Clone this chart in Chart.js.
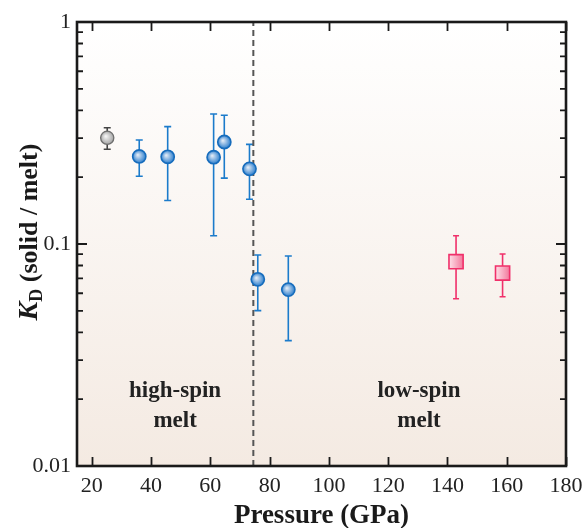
<!DOCTYPE html>
<html><head><meta charset="utf-8">
<script src="https://cdn.jsdelivr.net/npm/chart.js@4/dist/chart.umd.min.js"></script>
<style>html,body{margin:0;padding:0;background:#fff;}#wrap{width:584px;height:528px;}</style>
</head><body><div id="wrap"><canvas id="c" width="584" height="528"></canvas></div>
<script>
// ---- data ----
const refPressure = [25.2];
const refKd = [0.301];
const refKdHigh = [0.334];
const refKdLow = [0.267];

const hsPressure = [36.0, 45.6, 61.1, 64.7, 73.2, 76.0, 86.3];
const hsKd = [0.248, 0.247, 0.246, 0.288, 0.218, 0.0693, 0.0623];
const hsKdHigh = [0.294, 0.338, 0.385, 0.380, 0.281, 0.0892, 0.0883];
const hsKdLow = [0.202, 0.157, 0.109, 0.198, 0.159, 0.0501, 0.0367];

const lsPressure = [142.9, 158.6];
const lsKd = [0.0832, 0.0740];
const lsKdHigh = [0.109, 0.0902];
const lsKdLow = [0.0567, 0.0579];

const transitionPressure = 74.5;

const xTicks = [20, 40, 60, 80, 100, 120, 140, 160, 180];
const yMajorTicks = [0.01, 0.1, 1];
const yTickLabels = ['0.01', '0.1', '1'];
const yMinorTicks = [0.02,0.03,0.04,0.05,0.06,0.07,0.08,0.09,0.2,0.3,0.4,0.5,0.6,0.7,0.8,0.9];

const regionLabels = [
  {x: 48.1, lines: ['high-spin', 'melt']},
  {x: 130.4, lines: ['low-spin', 'melt']}
];

const pts = (xs, ys) => xs.map((x, i) => ({x: x, y: ys[i]}));

function radialFill(ctx, inner, outer) {
  const ch = ctx.chart;
  if (!ch.scales || !ch.scales.x || ctx.raw === undefined || ctx.raw === null) return outer;
  const px = ch.scales.x.getPixelForValue(ctx.raw.x);
  const py = ch.scales.y.getPixelForValue(ctx.raw.y);
  if (!isFinite(px) || !isFinite(py)) return outer;
  const g = ch.ctx.createRadialGradient(px - 1.5, py - 1.5, 0.5, px, py, 7);
  g.addColorStop(0, inner);
  g.addColorStop(1, outer);
  return g;
}
function squareFill(ctx) {
  const ch = ctx.chart;
  if (!ch.scales || !ch.scales.x || !ctx.raw) return '#f58aa8';
  const px = ch.scales.x.getPixelForValue(ctx.raw.x);
  if (!isFinite(px)) return '#f58aa8';
  const g = ch.ctx.createLinearGradient(px - 7, 0, px + 7, 0);
  g.addColorStop(0, '#fde0e8');
  g.addColorStop(1, '#f3789c');
  return g;
}

const errorSets = [
  {xs: refPressure, hi: refKdHigh, lo: refKdLow, color: '#444444', cap: 3.5},
  {xs: hsPressure, hi: hsKdHigh, lo: hsKdLow, color: '#1b7bcb', cap: 3.5},
  {xs: lsPressure, hi: lsKdHigh, lo: lsKdLow, color: '#f0306a', cap: 3}
];

const SERIF = '"Liberation Serif", "DejaVu Serif", serif';

const framePlugin = {
  id: 'frame',
  beforeDraw(chart) {
    const {ctx, chartArea: a} = chart;
    const g = ctx.createLinearGradient(0, a.top, 0, a.bottom);
    g.addColorStop(0, '#ffffff');
    g.addColorStop(1, '#f4eae2');
    ctx.save();
    ctx.fillStyle = g;
    ctx.fillRect(a.left, a.top, a.right - a.left, a.bottom - a.top);
    ctx.restore();
  },
  beforeDatasetsDraw(chart) {
    const {ctx, chartArea: a, scales: {x, y}} = chart;
    ctx.save();
    // region labels
    ctx.fillStyle = '#222';
    ctx.font = 'bold 23px ' + SERIF;
    ctx.textAlign = 'center';
    ctx.textBaseline = 'middle';
    regionLabels.forEach(r => {
      const px = x.getPixelForValue(r.x);
      ctx.fillText(r.lines[0], px, 391);
      ctx.fillText(r.lines[1], px, 421);
    });
    // error bars
    errorSets.forEach(s => {
      ctx.strokeStyle = s.color;
      ctx.lineWidth = 1.6;
      s.xs.forEach((xv, i) => {
        const px = x.getPixelForValue(xv);
        const pt = y.getPixelForValue(s.hi[i]);
        const pb = y.getPixelForValue(s.lo[i]);
        ctx.beginPath();
        ctx.moveTo(px, pt); ctx.lineTo(px, pb);
        ctx.moveTo(px - s.cap, pt); ctx.lineTo(px + s.cap, pt);
        ctx.moveTo(px - s.cap, pb); ctx.lineTo(px + s.cap, pb);
        ctx.stroke();
      });
    });
    ctx.restore();
  },
  afterDraw(chart) {
    const {ctx, chartArea: a, scales: {x, y}} = chart;
    ctx.save();
    ctx.strokeStyle = '#1a1a1a';
    ctx.lineWidth = 1.8;
    ctx.beginPath();
    xTicks.forEach(v => {
      const px = Math.round(x.getPixelForValue(v)) + 0.5;
      ctx.moveTo(px, a.bottom); ctx.lineTo(px, a.bottom - 9);
      ctx.moveTo(px, a.top); ctx.lineTo(px, a.top + 9);
    });
    yMajorTicks.forEach(v => {
      const py = y.getPixelForValue(v);
      ctx.moveTo(a.left, py); ctx.lineTo(a.left + 10, py);
      ctx.moveTo(a.right, py); ctx.lineTo(a.right - 10, py);
    });
    yMinorTicks.forEach(v => {
      const py = y.getPixelForValue(v);
      ctx.moveTo(a.left, py); ctx.lineTo(a.left + 6, py);
      ctx.moveTo(a.right, py); ctx.lineTo(a.right - 6, py);
    });
    ctx.stroke();
    ctx.lineWidth = 2.6;
    ctx.strokeRect(a.left, a.top, a.right - a.left, a.bottom - a.top);
    // y-axis title: K_D (solid / melt)
    ctx.translate(29, 232);
    ctx.rotate(-Math.PI / 2);
    ctx.fillStyle = '#1a1a1a';
    ctx.textBaseline = 'alphabetic';
    ctx.textAlign = 'left';
    const f1 = 'bold italic 28px ' + SERIF;
    const f2 = 'bold 18px ' + SERIF;
    const f3 = 'bold 26px ' + SERIF;
    const t3 = ' (solid / melt)';
    ctx.font = f1; const w1 = ctx.measureText('K').width;
    ctx.font = f2; const w2 = ctx.measureText('D').width;
    ctx.font = f3; const w3 = ctx.measureText(t3).width;
    let sx = -(w1 + w2 + w3) / 2;
    const base = 8;
    ctx.font = f1; ctx.fillText('K', sx, base); sx += w1;
    ctx.font = f2; ctx.fillText('D', sx, base + 5); sx += w2;
    ctx.font = f3; ctx.fillText(t3, sx, base);
    ctx.restore();
  }
};

new Chart(document.getElementById('c'), {
  type: 'scatter',
  data: {
    datasets: [
      {
        label: 'transition',
        type: 'line',
        data: [{x: transitionPressure, y: 0.01}, {x: transitionPressure, y: 1}],
        borderColor: '#555555', borderWidth: 2, borderDash: [6, 4],
        pointRadius: 0, fill: false, order: 5
      },
      {
        label: 'reference',
        data: pts(refPressure, refKd),
        pointRadius: 6.6, pointBorderWidth: 1.3,
        pointBorderColor: '#6e6e6e',
        pointBackgroundColor: c => radialFill(c, '#f4f4f4', '#a0a0a0'),
        order: 1
      },
      {
        label: 'high-spin',
        data: pts(hsPressure, hsKd),
        pointRadius: 6.6, pointBorderWidth: 1.6,
        pointBorderColor: '#166cbc',
        pointBackgroundColor: c => radialFill(c, '#dde8f5', '#2479cb'),
        order: 1
      },
      {
        label: 'low-spin',
        data: pts(lsPressure, lsKd),
        pointStyle: 'rect', pointRadius: 10, pointBorderWidth: 1.6,
        pointBorderColor: '#f0306a',
        pointBackgroundColor: squareFill,
        order: 1
      }
    ]
  },
  plugins: [framePlugin],
  options: {
    responsive: false,
    animation: false,
    events: [],
    layout: {padding: {left: 0, right: 18, top: 22, bottom: 0}},
    plugins: {legend: {display: false}, tooltip: {enabled: false}},
    scales: {
      x: {
        type: 'linear', min: 15, max: 180,
        afterBuildTicks: s => { s.ticks = xTicks.map(v => ({value: v})); },
        afterFit: s => { s.height = 62; s.paddingLeft = 0; s.paddingRight = 0; },
        grid: {display: false, drawTicks: false},
        border: {display: false},
        ticks: {color: '#222', font: {family: SERIF, size: 22}, padding: 7, maxRotation: 0, autoSkip: false},
        title: {display: true, text: 'Pressure (GPa)', color: '#1a1a1a', font: {family: SERIF, size: 27, weight: 'bold'}, padding: {top: 4, bottom: -4}}
      },
      y: {
        type: 'logarithmic', min: 0.01, max: 1,
        afterBuildTicks: s => { s.ticks = yMajorTicks.map(v => ({value: v})); },
        afterFit: s => { s.width = 77; s.paddingTop = 0; s.paddingBottom = 0; },
        grid: {display: false, drawTicks: false},
        border: {display: false},
        ticks: {
          color: '#222', font: {family: SERIF, size: 22}, padding: 6, autoSkip: false,
          callback: (v) => { const i = yMajorTicks.indexOf(v); return i >= 0 ? yTickLabels[i] : ''; }
        }
      }
    }
  }
});
</script>
</body></html>
